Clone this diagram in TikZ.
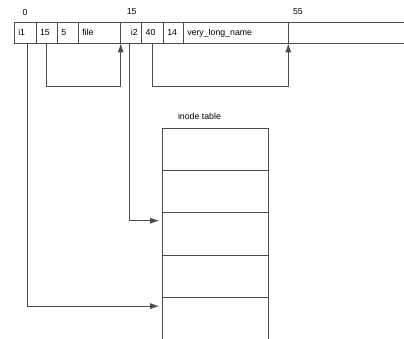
\documentclass[tikz,border=0pt]{standalone}
\usepackage{fontspec}
\setmainfont{Liberation Sans}
\usetikzlibrary{arrows.meta, positioning}

\begin{document}
\begin{tikzpicture}[
    x=1bp, y=-1bp,
    node distance=0pt,
    font=\fontsize{8.8}{10}\selectfont,
    cell/.style={rectangle, draw=black!70, line width=0.8bp, outer sep=0pt, minimum height=21bp, inner xsep=4bp, inner ysep=0pt, align=left},
    slot/.style={rectangle, draw=black!70, line width=0.8bp, outer sep=0pt, minimum width=105.6bp, minimum height=42.2bp, inner sep=0pt},
    link/.style={draw=black!70, line width=0.8bp, -{Latex[length=9bp, width=6bp]}}
]
    \useasboundingbox (0,0) rectangle (404,339);

    % Offsets above the directory block
    \node (off0) at (25,12) {0};
    \node (off15) at (131.7,12) {15};
    \node (off55) at (298,12) {55};

    % Directory entries
    \node[cell, text width=13.7bp, anchor=west] (ci1) at (14.3,32.8) {i1};
    \node[cell, text width=13.3bp, right=of ci1] (c15) {15};
    \node[cell, text width=13bp, right=of c15] (c5) {5};
    \node[cell, text width=34.4bp, right=of c5] (cfile) {file};
    \node[cell, text width=13bp, align=right, right=of cfile] (ci2) {i2};
    \node[cell, text width=13.6bp, right=of ci2] (c40) {40};
    \node[cell, text width=12bp, right=of c40] (c14) {14};
    \node[cell, text width=97bp, right=of c14] (cname) {very\_long\_name};
    \node[cell, text width=114bp, right=of cname] (crest) {};

    % Record length links
    \draw[link] (c15.south) -- ++(0,43) -| (cfile.south east);
    \draw[link] (c40.south) -- ++(0,43) -| (cname.south east);

    % Inode table
    \node (caption) at (199.5,116) {inode table};
    \node[slot, anchor=north west] (slot1) at (162.7,128.3) {};
    \node[slot, below=of slot1] (slot2) {};
    \node[slot, below=of slot2] (slot3) {};
    \node[slot, below=of slot3] (slot4) {};
    \node[slot, below=of slot4, minimum height=48bp] (slot5) {};

    % Inode number links
    \draw[link, shorten >=3.5bp] ([xshift=2bp]ci1.south) |- ([yshift=-9bp]slot5.north west);
    \draw[link, shorten >=3.5bp] ([xshift=-2bp]ci2.south) |- ([yshift=-8bp]slot3.north west);
\end{tikzpicture}
\end{document}
